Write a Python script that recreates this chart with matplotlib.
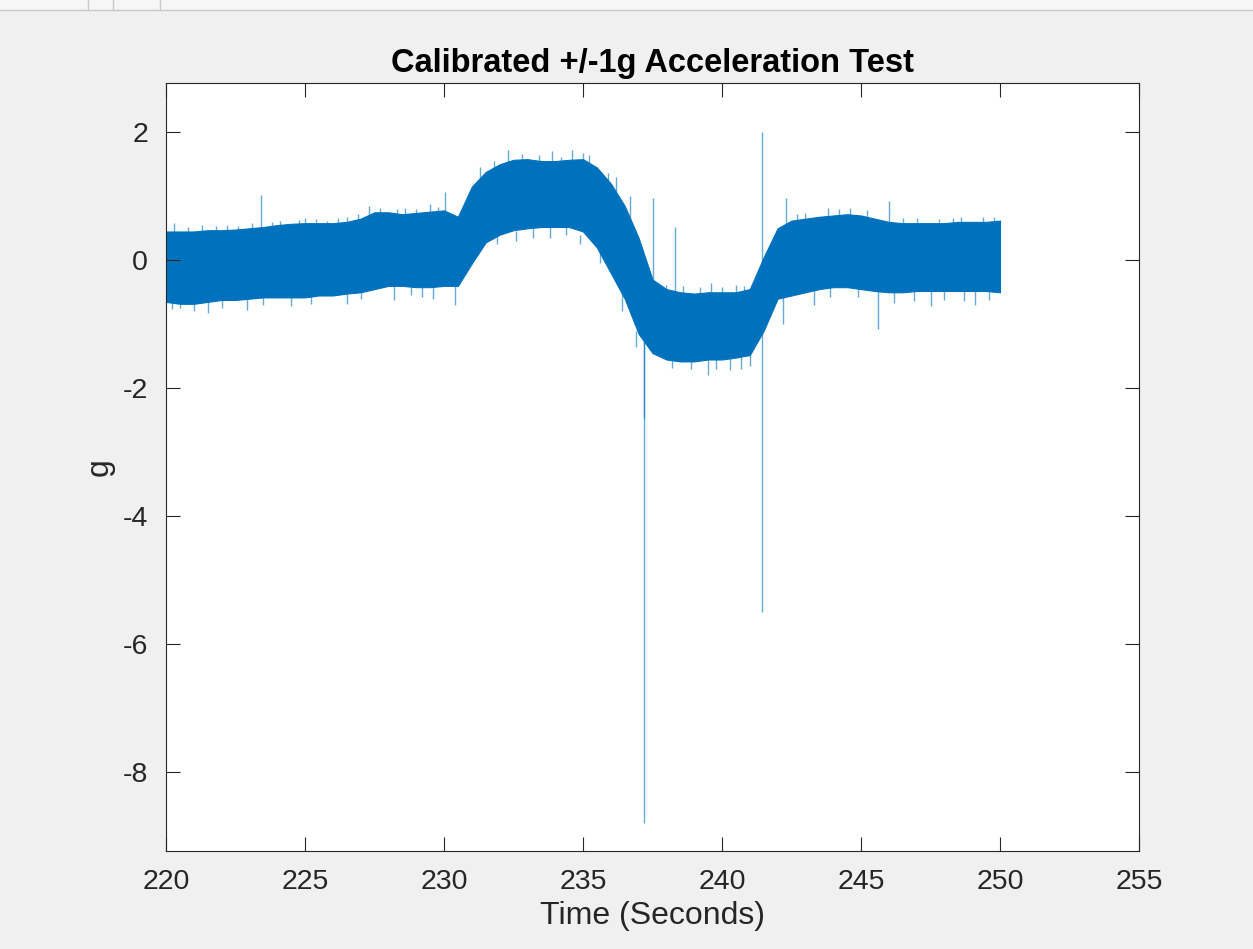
import numpy as np
import matplotlib
matplotlib.use("Agg")
import matplotlib.pyplot as plt
from matplotlib.patches import Rectangle
from matplotlib.lines import Line2D

# Envelope of the noisy accelerometer trace, read every 0.5 s
time_s = [220.0, 220.5, 221.0, 221.5, 222.0, 222.5, 223.0, 223.5, 224.0, 224.5,
          225.0, 225.5, 226.0, 226.5, 227.0, 227.5, 228.0, 228.5, 229.0, 229.5,
          230.0, 230.5, 231.0, 231.5, 232.0, 232.5, 233.0, 233.5, 234.0, 234.5,
          235.0, 235.5, 236.0, 236.5, 237.0, 237.5, 238.0, 238.5, 239.0, 239.5,
          240.0, 240.5, 241.0, 241.5, 242.0, 242.5, 243.0, 243.5, 244.0, 244.5,
          245.0, 245.5, 246.0, 246.5, 247.0, 247.5, 248.0, 248.5, 249.0, 249.5,
          250.0]
upper_g = [0.45, 0.45, 0.45, 0.47, 0.47, 0.48, 0.50, 0.52, 0.55, 0.57,
           0.58, 0.58, 0.58, 0.60, 0.65, 0.75, 0.75, 0.72, 0.74, 0.76,
           0.78, 0.68, 1.15, 1.38, 1.50, 1.57, 1.58, 1.55, 1.55, 1.57,
           1.58, 1.45, 1.20, 0.85, 0.35, -0.30, -0.45, -0.50, -0.52, -0.50,
           -0.50, -0.50, -0.45, 0.05, 0.50, 0.62, 0.65, 0.68, 0.70, 0.72,
           0.70, 0.65, 0.60, 0.58, 0.58, 0.58, 0.58, 0.60, 0.60, 0.60,
           0.62]
lower_g = [-0.65, -0.68, -0.68, -0.65, -0.62, -0.62, -0.60, -0.58, -0.58, -0.58,
           -0.58, -0.55, -0.55, -0.52, -0.50, -0.45, -0.40, -0.40, -0.42, -0.42,
           -0.40, -0.40, -0.05, 0.28, 0.40, 0.47, 0.50, 0.52, 0.52, 0.52,
           0.45, 0.20, -0.20, -0.60, -1.15, -1.45, -1.55, -1.58, -1.58, -1.55,
           -1.55, -1.52, -1.48, -1.10, -0.60, -0.55, -0.50, -0.45, -0.42, -0.42,
           -0.45, -0.48, -0.50, -0.50, -0.48, -0.48, -0.48, -0.48, -0.48, -0.48,
           -0.50]

# Spikes poking out of the band: time, bottom, top (g)
spike_t = [220.3, 221.3, 222.2, 223.4, 224.1, 225.0, 226.5, 227.3, 228.6, 229.5,
           230.05, 232.3, 233.9, 234.6, 235.2, 237.5, 238.3, 239.6, 240.5, 241.43,
           242.3, 243.8, 246.0, 248.6, 249.8,
           220.5, 221.5, 222.9, 224.5, 226.5, 228.2, 229.6, 230.4, 233.8, 234.4,
           235.6, 236.4, 237.2, 237.2, 238.9, 239.5, 240.3, 242.2, 243.3, 245.6,
           247.5, 249.1,
           220.8, 221.8, 222.6, 223.1, 223.8, 224.8, 225.4, 225.8, 226.2, 226.9,
           227.7, 228.3, 229.0, 229.8, 231.3, 231.8, 232.8, 233.4, 234.2, 235.0,
           235.9, 236.2, 236.7, 238.0, 238.6, 239.2, 240.0, 240.8, 241.2, 242.7,
           243.0, 244.2, 244.6, 245.2, 246.5, 247.0, 247.8, 248.3, 249.4,
           220.2, 221.0, 222.0, 223.5, 225.2, 227.0, 228.8, 229.2, 231.9, 232.6,
           233.2, 234.9, 236.9, 238.2, 239.8, 240.7, 241.0, 243.9, 244.9, 246.2,
           246.9, 248.0, 248.7, 249.6]
spike_lo = [0.3, 0.3, 0.3, 0.3, 0.4, 0.4, 0.4, 0.5, 0.5, 0.5,
            0.5, 1.3, 1.3, 1.3, 1.3, -0.5, -0.6, -0.6, -0.6, -5.5,
            0.4, 0.5, 0.4, 0.4, 0.4,
            -0.5, -0.5, -0.5, -0.5, -0.4, -0.3, -0.3, -0.3, 0.6, 0.6,
            -0.05, -0.8, -8.8, -2.47, -1.70, -1.80, -1.72, -1.0, -0.70, -1.08,
            -0.72, -0.70,
            0.35, 0.35, 0.35, 0.4, 0.4, 0.45, 0.45, 0.45, 0.45, 0.5,
            0.6, 0.6, 0.6, 0.6, 1.2, 1.3, 1.4, 1.4, 1.4, 1.4,
            1.1, 0.9, 0.5, -0.55, -0.6, -0.6, -0.6, -0.6, -0.55, 0.5,
            0.5, 0.6, 0.6, 0.55, 0.45, 0.45, 0.45, 0.45, 0.45,
            -0.76, -0.80, -0.74, -0.70, -0.68, -0.60, -0.55, -0.58, 0.25, 0.30,
            0.35, 0.25, -1.35, -1.68, -1.70, -1.70, -1.65, -0.58, -0.58, -0.66,
            -0.64, -0.62, -0.63, -0.62]
spike_hi = [0.58, 0.55, 0.55, 1.02, 0.62, 0.66, 0.68, 0.85, 0.82, 0.88,
            1.06, 1.72, 1.70, 1.72, 1.65, 0.97, 0.52, -0.35, -0.38, 2.0,
            0.97, 0.82, 0.92, 0.68, 0.68,
            -0.75, -0.82, -0.78, -0.72, -0.68, -0.62, -0.60, -0.70, 0.35, 0.40,
            0.2, -0.4, -1.0, -1.0, -1.4, -1.4, -1.4, -0.5, -0.4, -0.4,
            -0.4, -0.4,
            0.52, 0.53, 0.54, 0.58, 0.60, 0.63, 0.64, 0.62, 0.66, 0.72,
            0.82, 0.80, 0.80, 0.84, 1.45, 1.55, 1.66, 1.64, 1.62, 1.68,
            1.36, 1.30, 1.00, -0.38, -0.40, -0.42, -0.41, -0.40, -0.36, 0.72,
            0.74, 0.80, 0.81, 0.78, 0.66, 0.66, 0.64, 0.66, 0.67,
            -0.6, -0.6, -0.6, -0.5, -0.5, -0.4, -0.3, -0.3, 0.4, 0.45,
            0.5, 0.4, -1.1, -1.5, -1.5, -1.5, -1.45, -0.4, -0.4, -0.45,
            -0.45, -0.45, -0.45, -0.45]

x_ticks = [220, 225, 230, 235, 240, 245, 250, 255]
y_ticks = [-8, -6, -4, -2, 0, 2]

line_color = "#0072BD"
bg_color = "#f0f0f0"

plt.rcParams["font.family"] = ["Liberation Sans", "DejaVu Sans"]
plt.rcParams["axes.unicode_minus"] = False

fig = plt.figure(figsize=(12.53, 9.49), dpi=100, facecolor=bg_color)

# window toolbar strip at the top of the screenshot
fig.patches.append(Rectangle((0, 1 - 10 / 949), 1, 10 / 949, transform=fig.transFigure,
                             facecolor="#f6f6f6", edgecolor="none", zorder=0))
fig.add_artist(Line2D([0, 1], [1 - 10 / 949] * 2, transform=fig.transFigure,
                      color="#c8c8c8", lw=1))
for xp in [88, 113, 160]:
    fig.add_artist(Line2D([xp / 1253] * 2, [1 - 10 / 949, 1], transform=fig.transFigure,
                          color="#c8c8c8", lw=1))

ax = fig.add_axes([166 / 1253, 1 - 851 / 949, 973 / 1253, 768 / 949])
ax.set_facecolor("white")

ax.fill_between(time_s, lower_g, upper_g, color=line_color, lw=0.8, edgecolor=line_color)
ax.vlines(spike_t, spike_lo, spike_hi, color=line_color, lw=1.0, alpha=0.6)

ax.set_xlim(220, 255)
ax.set_ylim(-9.23, 2.77)
ax.set_xticks(x_ticks)
ax.set_yticks(y_ticks)
ax.tick_params(direction="in", length=10, width=0.8, top=True, right=True,
               labelsize=20.5, color="#262626", labelcolor="#262626", pad=13)
for sp in ax.spines.values():
    sp.set_color("#262626")
    sp.set_linewidth(0.8)

ax.set_xlabel("Time (Seconds)", fontsize=23, color="#262626", labelpad=4)
ax.set_ylabel("g", fontsize=23, color="#262626", labelpad=6)
ax.set_title("Calibrated +/-1g Acceleration Test", fontsize=23.5, fontweight="bold",
             color="black", pad=8)

fig.savefig("out.png", dpi=100, facecolor=bg_color)
